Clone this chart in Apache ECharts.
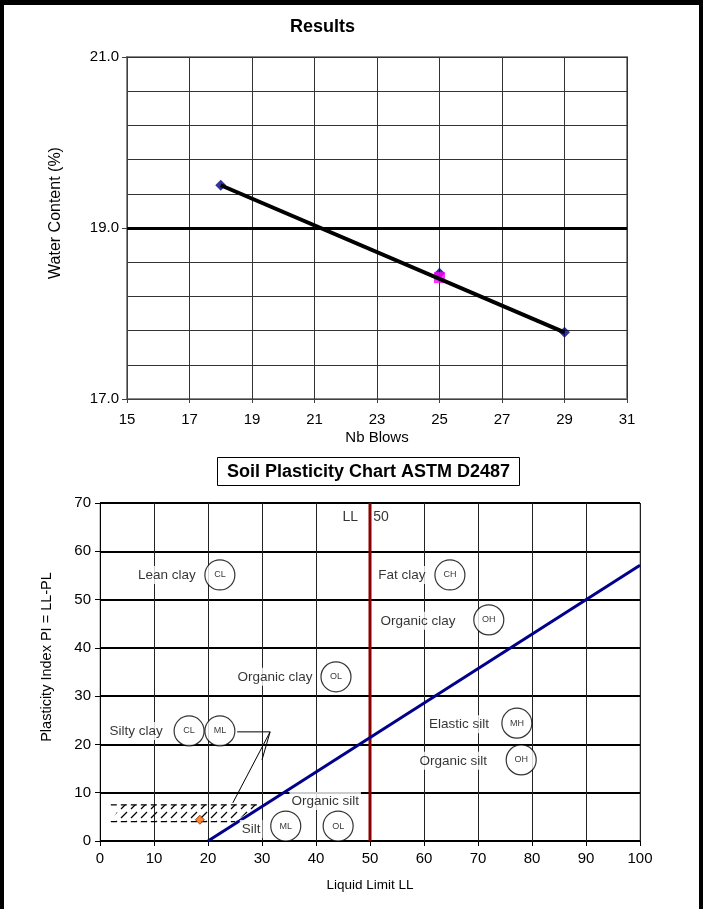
<!DOCTYPE html>
<html><head><meta charset="utf-8">
<script src="https://cdn.jsdelivr.net/npm/echarts@6/dist/echarts.min.js"></script>
<style>
html,body{margin:0;padding:0;background:#fff;}
#chart{position:absolute;left:0;top:0;width:703px;height:909px;}
#frame{position:absolute;left:0;top:0;width:703px;height:909px;box-sizing:border-box;border-left:4px solid #000;border-right:4px solid #000;border-top:5px solid #000;pointer-events:none;}
</style></head>
<body>
<div id="chart"></div><div id="frame"></div>
<script>
// ---------- Top chart data (Results) ----------
const blowsTicks = [15, 17, 19, 21, 23, 25, 27, 29, 31];
const waterTicks = [17, 19, 21];
const blows = [18, 25, 29];
const waterContent = [19.5, 18.47, 17.78];
const llBlows = [25];
const llWater = [18.42];
const fitBlows = [18, 29];
const fitWater = [19.5, 17.78];
const refWater = 19.0;

// ---------- Bottom chart data (Plasticity chart) ----------
const aLineLL = [20, 100];
const aLinePI = [0, 57.1];
const ll50LL = [50, 50];
const ll50PI = [0, 70];
const hatchLL = [2, 4, 29.5, 25];
const hatchPI = [4, 7.5, 7.5, 4];
const dashTopLL = [2, 29.5];
const dashTopPI = [7.5, 7.5];
const dashBotLL = [2, 25];
const dashBotPI = [4, 4];
const sampleLL = [18.5];
const samplePI = [4.4];
const circleNames = ['CL', 'CH', 'OH', 'OL', 'CL', 'ML', 'MH', 'OH', 'ML', 'OL'];
const circleLL = [22.2, 64.8, 72.0, 43.7, 16.5, 22.2, 77.2, 78.0, 34.4, 44.1];
const circlePI = [55.1, 55.1, 45.8, 34.0, 22.8, 22.8, 24.4, 16.8, 3.1, 3.1];
const zoneNames = ['Lean clay', 'Fat clay', 'Organic clay', 'Organic clay', 'Silty clay', 'Elastic silt', 'Organic silt', 'Organic silt', 'Silt'];
const zoneLL = [12.4, 55.9, 58.9, 32.4, 6.7, 66.5, 65.4, 41.7, 28.0];
const zonePI = [55.1, 55.1, 45.6, 34.0, 22.8, 24.2, 16.6, 8.3, 2.5];
const arrowPath = [[25.4, 22.6], [31.5, 22.6]];
const arrowHeads = [[[31.5, 22.6], [24.6, 7.9]], [[31.5, 22.6], [30.0, 16.8]]];

const FONT = 'Liberation Sans, Arial, Helvetica, sans-serif';
const zip = (a, b) => a.map((v, i) => [v, b[i]]);

function makeHatch() {
  const c = document.createElement('canvas');
  c.width = 10; c.height = 9;
  const g = c.getContext('2d');
  g.strokeStyle = '#000'; g.lineWidth = 1.3;
  g.beginPath(); g.moveTo(1, 8); g.lineTo(7, 2); g.stroke();
  return c;
}
const hatchCanvas = makeHatch();

const chart = echarts.init(document.getElementById('chart'), null, {renderer: 'canvas'});

const option = {
  animation: false,
  textStyle: {fontFamily: FONT},
  title: [
    {text: 'Results', left: 290, top: 18, padding: 0,
     textStyle: {fontFamily: FONT, fontSize: 18, fontWeight: 'bold', color: '#000'}},
    {text: 'Soil Plasticity Chart ASTM D2487', left: 217, top: 457, padding: [6, 10, 5, 10],
     borderWidth: 1, borderColor: '#000',
     textStyle: {fontFamily: FONT, fontSize: 18, fontWeight: 'bold', color: '#000'}}
  ],
  grid: [
    {left: 127, top: 57, width: 500, height: 342, show: true, borderColor: '#888', borderWidth: 2, backgroundColor: 'transparent'},
    {left: 100, top: 503, width: 540, height: 338, show: true, borderColor: '#888', borderWidth: 1, backgroundColor: 'transparent'}
  ],
  xAxis: [
    {type: 'value', gridIndex: 0, min: 15, max: 31, name: 'Nb Blows', nameLocation: 'middle', nameGap: 31,
     nameTextStyle: {fontFamily: FONT, fontSize: 15, color: '#000'},
     axisLine: {lineStyle: {color: '#404040', width: 1}},
     axisTick: {customValues: blowsTicks, length: 4, lineStyle: {color: '#404040'}},
     axisLabel: {customValues: blowsTicks, fontSize: 15, color: '#000', margin: 13},
     splitLine: {show: false}},
    {type: 'value', gridIndex: 1, min: 0, max: 100, interval: 10, name: 'Liquid Limit LL', nameLocation: 'middle', nameGap: 37,
     nameTextStyle: {fontFamily: FONT, fontSize: 13.5, color: '#000'},
     axisLine: {lineStyle: {color: '#000', width: 1}},
     axisTick: {length: 5, lineStyle: {color: '#000'}},
     axisLabel: {fontSize: 15, color: '#000', margin: 10},
     splitLine: {show: true, lineStyle: {color: '#222', width: 1}}},
    {type: 'value', gridIndex: 0, min: 0, max: 8, interval: 1,
     axisLine: {show: false}, axisTick: {show: false}, axisLabel: {show: false},
     splitLine: {show: true, lineStyle: {color: '#333', width: 1}}}
  ],
  yAxis: [
    {type: 'value', gridIndex: 0, min: 17, max: 21, name: 'Water Content (%)', nameLocation: 'middle', nameGap: 63,
     nameTextStyle: {fontFamily: FONT, fontSize: 16, color: '#000', padding: [0, 0, 0, 30]},
     axisLine: {show: true, lineStyle: {color: '#404040', width: 1}},
     axisTick: {show: true, customValues: waterTicks, length: 5, lineStyle: {color: '#404040'}},
     axisLabel: {customValues: waterTicks, fontSize: 15, color: '#000', margin: 8, formatter: v => Number(v).toFixed(1)},
     splitLine: {show: false}},
    {type: 'value', gridIndex: 1, min: 0, max: 70, interval: 10, name: 'Plasticity Index PI = LL-PL', nameLocation: 'middle', nameGap: 46,
     nameTextStyle: {fontFamily: FONT, fontSize: 14.5, color: '#000', padding: [0, 0, 0, 30]},
     axisLine: {show: true, lineStyle: {color: '#000', width: 1}},
     axisTick: {show: true, length: 5, lineStyle: {color: '#000'}},
     axisLabel: {fontSize: 15, color: '#000', margin: 9},
     splitLine: {show: true, lineStyle: {color: '#000', width: 2}}},
    {type: 'value', gridIndex: 0, min: 0, max: 10, interval: 1,
     axisLine: {show: false}, axisTick: {show: false}, axisLabel: {show: false},
     splitLine: {show: true, lineStyle: {color: '#333', width: 1}}}
  ],
  series: [
    // ----- top chart -----
    {type: 'scatter', xAxisIndex: 0, yAxisIndex: 0, data: zip(blows, waterContent), symbol: 'diamond', symbolSize: 11,
     itemStyle: {color: '#000080'}, z: 3},
    {type: 'scatter', xAxisIndex: 0, yAxisIndex: 0, data: zip(llBlows, llWater), symbol: 'rect', symbolSize: 11,
     itemStyle: {color: '#FF00FF'}, z: 4},
    {type: 'line', xAxisIndex: 0, yAxisIndex: 0, data: zip(fitBlows, fitWater), showSymbol: false, symbol: 'none',
     lineStyle: {color: '#000', width: 4}, z: 5,
     markLine: {silent: true, symbol: 'none', label: {show: false},
       lineStyle: {color: '#000', width: 3, type: 'solid'},
       data: [{yAxis: refWater}]}},
    // ----- bottom chart -----
    {type: 'custom', xAxisIndex: 1, yAxisIndex: 1, data: [0], z: 2,
     renderItem: (params, api) => ({
       type: 'polygon',
       shape: {points: hatchLL.map((x, i) => api.coord([x, hatchPI[i]]))},
       style: {fill: {image: hatchCanvas, repeat: 'repeat'}, stroke: null}
     })},
    {type: 'line', xAxisIndex: 1, yAxisIndex: 1, data: zip(dashTopLL, dashTopPI), symbol: 'none',
     lineStyle: {color: '#000', width: 1.2, type: [6, 4]}, z: 3},
    {type: 'line', xAxisIndex: 1, yAxisIndex: 1, data: zip(dashBotLL, dashBotPI), symbol: 'none',
     lineStyle: {color: '#000', width: 1.2, type: [6, 4]}, z: 3},
    {type: 'line', xAxisIndex: 1, yAxisIndex: 1, data: zip(ll50LL, ll50PI), symbol: 'none',
     lineStyle: {color: '#8B0000', width: 3}, z: 4},
    {type: 'line', xAxisIndex: 1, yAxisIndex: 1, data: zip(aLineLL, aLinePI), symbol: 'none',
     lineStyle: {color: '#00008B', width: 3}, z: 4},
    {type: 'line', xAxisIndex: 1, yAxisIndex: 1, data: arrowPath, symbol: 'none',
     lineStyle: {color: '#000', width: 1}, z: 4,
     markLine: {silent: true, animation: false, label: {show: false},
       lineStyle: {color: '#000', width: 1, type: 'solid'},
       symbol: ['none', 'arrow'], symbolSize: [0, 9],
       data: arrowHeads.map(seg => [{coord: seg[0]}, {coord: seg[1]}])}},
    {type: 'scatter', xAxisIndex: 1, yAxisIndex: 1, data: zip(sampleLL, samplePI), symbol: 'diamond', symbolSize: 9,
     itemStyle: {color: '#FF6600', borderColor: '#803300', borderWidth: 1}, z: 6},
    {type: 'scatter', xAxisIndex: 1, yAxisIndex: 1, z: 7,
     data: circleNames.map((n, i) => ({value: [circleLL[i], circlePI[i]], name: n})),
     symbol: 'circle', symbolSize: 30,
     itemStyle: {color: '#fff', borderColor: '#000', borderWidth: 1.2},
     label: {show: true, position: 'inside', formatter: p => p.name, fontFamily: FONT, fontSize: 9, color: '#000'}},
    {type: 'scatter', xAxisIndex: 1, yAxisIndex: 1, z: 6,
     data: zoneNames.map((n, i) => ({value: [zoneLL[i], zonePI[i]], name: n})),
     symbol: 'circle', symbolSize: 1, itemStyle: {color: 'rgba(0,0,0,0)'},
     label: {show: true, position: 'inside', formatter: p => p.name, fontFamily: FONT, fontSize: 13.5, color: '#000',
             backgroundColor: '#fff', padding: [2, 2]}},
    {type: 'scatter', xAxisIndex: 1, yAxisIndex: 1, z: 6,
     data: [{value: [47.9, 67.1], name: 'LL'}], symbol: 'circle', symbolSize: 1, itemStyle: {color: 'rgba(0,0,0,0)'},
     label: {show: true, position: 'left', distance: 0, formatter: p => p.name, fontFamily: FONT, fontSize: 14, color: '#000'}},
    {type: 'scatter', xAxisIndex: 1, yAxisIndex: 1, z: 6,
     data: [{value: [50.5, 67.1], name: '50'}], symbol: 'circle', symbolSize: 1, itemStyle: {color: 'rgba(0,0,0,0)'},
     label: {show: true, position: 'right', distance: 0, formatter: p => p.name, fontFamily: FONT, fontSize: 14, color: '#000'}}
  ]
};
chart.setOption(option);
</script>
</body></html>
